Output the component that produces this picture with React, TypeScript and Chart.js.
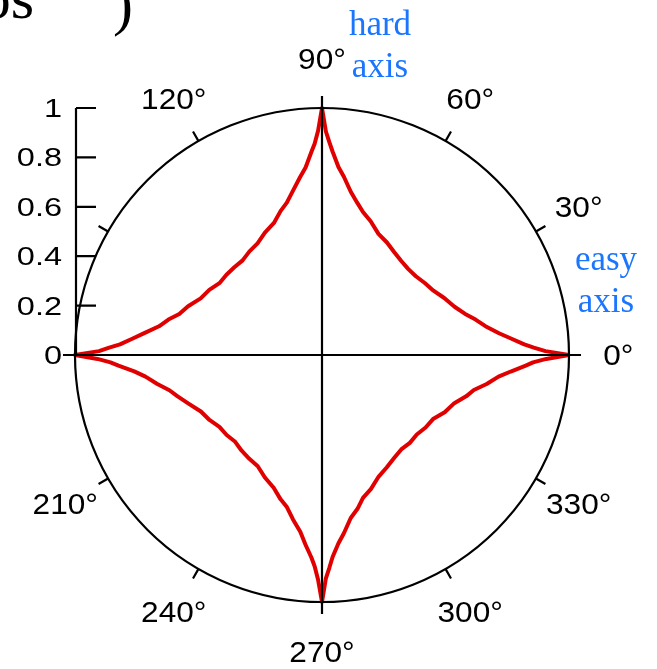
import { useEffect, useRef } from 'react';
import { Chart, registerables } from 'chart.js';

Chart.register(...registerables);

// Field angle (degrees) measured from the easy axis.
const ANGLES_DEG = [
  0, 1, 2, 3, 5, 7, 10, 13, 16, 20, 25, 30, 35, 40, 45, 50, 55, 60, 65, 70, 74, 77, 80, 83, 85, 87, 88, 89,
  90, 91, 92, 93, 95, 97, 100, 103, 106, 110, 115, 120, 125, 130, 135, 140, 145, 150, 155, 160, 164, 167, 170, 173, 175, 177, 178, 179,
  180, 181, 182, 183, 185, 187, 190, 193, 196, 200, 205, 210, 215, 220, 225, 230, 235, 240, 245, 250, 254, 257, 260, 263, 265, 267, 268, 269,
  270, 271, 272, 273, 275, 277, 280, 283, 286, 290, 295, 300, 305, 310, 315, 320, 325, 330, 335, 340, 344, 347, 350, 353, 355, 357, 358, 359, 360,
];

// Normalised switching field h_sw at each angle.
const SWITCHING_FIELD = [
  1.0, 0.905, 0.858, 0.82, 0.768, 0.722, 0.672, 0.638, 0.603, 0.571, 0.546, 0.521, 0.508, 0.496, 0.493, 0.498, 0.509, 0.526, 0.541, 0.576, 0.602, 0.633, 0.671, 0.727, 0.764, 0.824, 0.861, 0.905,
  1.0, 0.908, 0.856, 0.823, 0.762, 0.726, 0.676, 0.633, 0.607, 0.569, 0.547, 0.522, 0.512, 0.5, 0.502, 0.505, 0.507, 0.527, 0.542, 0.577, 0.601, 0.638, 0.67, 0.725, 0.769, 0.819, 0.862, 0.903,
  1.0, 0.909, 0.857, 0.825, 0.763, 0.72, 0.677, 0.634, 0.608, 0.575, 0.541, 0.526, 0.507, 0.504, 0.497, 0.506, 0.513, 0.52, 0.547, 0.572, 0.608, 0.632, 0.676, 0.721, 0.77, 0.821, 0.856, 0.91,
  1.0, 0.904, 0.861, 0.819, 0.765, 0.727, 0.67, 0.639, 0.602, 0.578, 0.543, 0.525, 0.509, 0.499, 0.503, 0.501, 0.512, 0.519, 0.548, 0.57, 0.607, 0.631, 0.677, 0.72, 0.767, 0.826, 0.855, 0.908, 1.0,
];

const RADIAL_TICKS = [0, 0.2, 0.4, 0.6, 0.8, 1];
const RADIAL_TICK_LABELS = ['0', '0.2', '0.4', '0.6', '0.8', '1'];
const ANGLE_TICKS = [30, 60, 120, 150, 210, 240, 300, 330];
const ANGLE_LABELS = [0, 30, 60, 90, 120, 210, 240, 270, 300, 330];

const CURVE_COLOR = '#e10000';
const NOTE_COLOR = '#1a75ff';

function drawStretched(ctx: CanvasRenderingContext2D, text: string, x: number, y: number, sx: number) {
  ctx.save();
  ctx.translate(x, y);
  ctx.scale(sx, 1);
  ctx.fillText(text, 0, 0);
  ctx.restore();
}

const polarFrame = {
  id: 'polarFrame',
  afterDatasetsDraw(chart: any) {
    const { ctx } = chart;
    const xs = chart.scales.x;
    const ys = chart.scales.y;
    const cx = xs.getPixelForValue(0);
    const cy = ys.getPixelForValue(0);
    const R = xs.getPixelForValue(1) - cx;
    const outTick = 12;
    const rad = (d: number) => (d * Math.PI) / 180;

    ctx.save();
    ctx.strokeStyle = '#000';
    ctx.lineWidth = 2.2;

    // unit circle
    ctx.beginPath();
    ctx.arc(cx, cy, R, 0, Math.PI * 2);
    ctx.stroke();

    // easy / hard axes through the centre, poking out past the circle
    ctx.beginPath();
    ctx.moveTo(cx - R - outTick, cy);
    ctx.lineTo(cx + R + outTick, cy);
    ctx.moveTo(cx, cy - R - outTick);
    ctx.lineTo(cx, cy + R + outTick);
    ctx.stroke();

    // 30-degree ticks on the rim
    ctx.beginPath();
    for (const a of ANGLE_TICKS) {
      const t = rad(a);
      ctx.moveTo(cx + R * Math.cos(t), cy - R * Math.sin(t));
      ctx.lineTo(cx + (R + 11) * Math.cos(t), cy - (R + 11) * Math.sin(t));
    }
    ctx.stroke();

    // angle labels
    ctx.fillStyle = '#000';
    ctx.font = '29px "Liberation Sans", Arial, sans-serif';
    ctx.textAlign = 'center';
    ctx.textBaseline = 'alphabetic';
    for (const a of ANGLE_LABELS) {
      const t = rad(a);
      const lx = cx + 1.2 * R * Math.cos(t);
      const ly = cy - 1.2 * R * Math.sin(t) + 10.4;
      drawStretched(ctx, `${a}°`, lx, ly, 1.09);
    }

    // radial scale along the left edge of the circle
    const x0 = xs.getPixelForValue(-1);
    ctx.beginPath();
    ctx.moveTo(x0 + 1, ys.getPixelForValue(0));
    ctx.lineTo(x0 + 1, ys.getPixelForValue(1));
    for (const v of RADIAL_TICKS) {
      const py = ys.getPixelForValue(v);
      ctx.moveTo(x0 + 1, py);
      ctx.lineTo(x0 + 21, py);
    }
    ctx.stroke();
    ctx.font = '25px "Liberation Sans", Arial, sans-serif';
    ctx.textAlign = 'right';
    RADIAL_TICKS.forEach((v, i) => {
      drawStretched(ctx, RADIAL_TICK_LABELS[i], x0 - 13, ys.getPixelForValue(v) + 9, 1.3);
    });

    // axis annotations
    ctx.fillStyle = NOTE_COLOR;
    ctx.font = '35px "Liberation Serif", "Times New Roman", serif';
    ctx.textAlign = 'center';
    ctx.fillText('hard', cx + 58, cy - 320);
    ctx.fillText('axis', cx + 58, cy - 278);
    ctx.fillText('easy', cx + 284, cy - 85);
    ctx.fillText('axis', cx + 284, cy - 43);

    // tail of the heading formula, running off the top edge
    ctx.fillStyle = '#000';
    ctx.font = '60px "Liberation Serif", "Times New Roman", serif';
    ctx.textAlign = 'left';
    ctx.fillText('cos', -46, 18);
    ctx.fillText(')', 113, 24);

    ctx.restore();
  },
};

export default function App() {
  const canvasRef = useRef<HTMLCanvasElement | null>(null);

  useEffect(() => {
    const canvas = canvasRef.current;
    if (!canvas) return;

    const points = ANGLES_DEG.map((a, i) => {
      const t = (a * Math.PI) / 180;
      const r = SWITCHING_FIELD[i];
      return { x: r * Math.cos(t), y: r * Math.sin(t) };
    });

    const chart = new Chart(canvas, {
      type: 'scatter',
      data: {
        datasets: [
          {
            data: points,
            showLine: true,
            borderColor: CURVE_COLOR,
            backgroundColor: CURVE_COLOR,
            borderWidth: 4,
            borderJoinStyle: 'round',
            pointRadius: 0,
            tension: 0,
            fill: false,
            clip: false,
          } as any,
        ],
      },
      options: {
        animation: false,
        responsive: false,
        maintainAspectRatio: false,
        events: [],
        layout: { padding: { left: 75, right: 88, top: 108, bottom: 67 } },
        scales: {
          x: { type: 'linear', min: -1, max: 1, display: false },
          y: { type: 'linear', min: -1, max: 1, display: false },
        },
        plugins: {
          legend: { display: false },
          tooltip: { enabled: false },
          title: { display: false },
        },
      },
      plugins: [polarFrame],
    });

    return () => chart.destroy();
  }, []);

  return (
    <div style={{ position: 'fixed', left: 0, top: 0, width: 657, height: 669, background: '#fff' }}>
      <canvas ref={canvasRef} width={657} height={669} style={{ display: 'block', width: 657, height: 669 }} />
    </div>
  );
}
